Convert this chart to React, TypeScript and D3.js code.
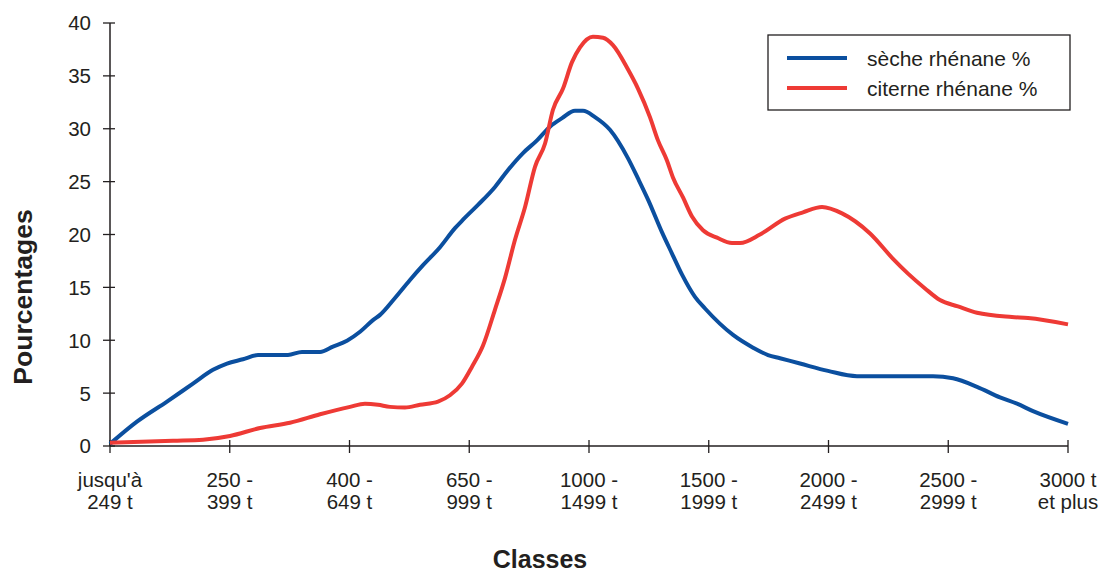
import React from "react";
import * as d3 from "d3";

const categories: string[][] = [
  ["jusqu'à", "249 t"],
  ["250 -", "399 t"],
  ["400 -", "649 t"],
  ["650 -", "999 t"],
  ["1000 -", "1499 t"],
  ["1500 -", "1999 t"],
  ["2000 -", "2499 t"],
  ["2500 -", "2999 t"],
  ["3000 t", "et plus"],
];

const yTicks = [0, 5, 10, 15, 20, 25, 30, 35, 40];

// positions along the class axis (0 = first class, 8 = last class)
const secheX = [0, 0.225, 0.476, 0.693, 0.86, 0.977, 1.11, 1.236, 1.486, 1.603, 1.754, 1.862, 1.979, 2.088, 2.196, 2.255, 2.38, 2.505, 2.614, 2.756, 2.881, 2.948, 3.073, 3.215, 3.324, 3.449, 3.566, 3.674, 3.775, 3.883, 3.95, 4.05, 4.175, 4.326, 4.409, 4.493, 4.61, 4.693, 4.777, 4.885, 4.969, 5.203, 5.37, 5.495, 5.595, 5.762, 5.996, 6.238, 6.873, 7.04, 7.24, 7.432, 7.574, 7.708, 8];
const secheY = [0.2, 2.3, 4.2, 5.9, 7.2, 7.8, 8.2, 8.6, 8.6, 8.9, 8.9, 9.4, 9.95, 10.8, 11.9, 12.4, 14.0, 15.7, 17.1, 18.8, 20.6, 21.4, 22.8, 24.5, 26.1, 27.7, 28.9, 30.2, 31.0, 31.7, 31.7, 31.1, 29.9, 27.2, 25.3, 23.3, 20.2, 18.2, 16.2, 14.1, 13.0, 10.5, 9.3, 8.6, 8.3, 7.8, 7.1, 6.6, 6.6, 6.4, 5.6, 4.6, 4.0, 3.3, 2.1];

const citerneX = [0, 0.526, 0.777, 1.002, 1.253, 1.503, 1.754, 2.004, 2.129, 2.238, 2.338, 2.463, 2.589, 2.739, 2.839, 2.939, 3.023, 3.115, 3.215, 3.299, 3.382, 3.466, 3.549, 3.633, 3.699, 3.783, 3.858, 3.925, 4.033, 4.117, 4.2, 4.326, 4.409, 4.509, 4.576, 4.651, 4.701, 4.785, 4.86, 4.952, 5.069, 5.194, 5.261, 5.428, 5.637, 5.787, 5.946, 6.113, 6.347, 6.539, 6.664, 6.806, 6.931, 7.081, 7.24, 7.532, 7.666, 8];
const citerneY = [0.3, 0.5, 0.6, 0.95, 1.7, 2.2, 3.0, 3.7, 4.0, 3.9, 3.7, 3.65, 3.9, 4.2, 4.8, 5.9, 7.5, 9.5, 12.9, 15.9, 19.5, 22.6, 26.4, 28.6, 31.8, 33.8, 36.3, 37.7, 38.7, 38.6, 37.9, 35.6, 33.8, 31.1, 28.9, 27.0, 25.4, 23.5, 21.7, 20.4, 19.7, 19.2, 19.2, 20.0, 21.5, 22.1, 22.6, 22.0, 20.1, 17.7, 16.3, 14.9, 13.8, 13.2, 12.6, 12.2, 12.1, 11.5];

const seriesNames = ["sèche rhénane %", "citerne rhénane %"];
const seriesColors = ["#0b4f9f", "#ee3a35"];

const W = 1102;
const H = 572;
const FONT = "'Liberation Sans', Arial, Helvetica, sans-serif";
const INK = "#231f20";

export default function App() {
  const x = d3.scaleLinear().domain([0, categories.length - 1]).range([110, 1068]);
  const y = d3.scaleLinear().domain([0, 40]).range([446, 23]);

  const line = d3
    .line<[number, number]>()
    .x((d) => x(d[0]))
    .y((d) => y(d[1]))
    .curve(d3.curveMonotoneX);

  const series = [
    secheX.map((v, i) => [v, secheY[i]] as [number, number]),
    citerneX.map((v, i) => [v, citerneY[i]] as [number, number]),
  ];

  return (
    <svg
      width={W}
      height={H}
      style={{ position: "absolute", left: 0, top: 0, background: "#fff" }}
      fontFamily={FONT}
    >
      {/* axes */}
      <line x1={x(0)} x2={x(0)} y1={y(40)} y2={y(0)} stroke={INK} strokeWidth={1.5} />
      <line x1={x(0)} x2={x(8)} y1={y(0)} y2={y(0)} stroke={INK} strokeWidth={1.5} />
      {yTicks.map((t) => (
        <g key={"y" + t}>
          <line x1={x(0) - 7} x2={x(0) + 5} y1={y(t)} y2={y(t)} stroke={INK} strokeWidth={1.3} />
          <text x={91} y={y(t)} dy="0.36em" textAnchor="end" fontSize={20.5} fill={INK}>
            {t}
          </text>
        </g>
      ))}
      {categories.map((c, i) => (
        <g key={"x" + i}>
          <line x1={x(i)} x2={x(i)} y1={y(0) - 6} y2={y(0) + 7} stroke={INK} strokeWidth={1.3} />
          <text x={x(i)} y={487} textAnchor="middle" fontSize={20.5} fill={INK}>
            {c[0]}
          </text>
          <text x={x(i)} y={509} textAnchor="middle" fontSize={20.5} fill={INK}>
            {c[1]}
          </text>
        </g>
      ))}

      {/* series */}
      {series.map((s, i) => (
        <path
          key={"s" + i}
          d={line(s) || ""}
          fill="none"
          stroke={seriesColors[i]}
          strokeWidth={4}
          strokeLinejoin="round"
        />
      ))}

      {/* axis titles */}
      <text
        transform={`translate(32,297) rotate(-90)`}
        textAnchor="middle"
        fontSize={26.5}
        fontWeight="bold"
        fill={INK}
      >
        Pourcentages
      </text>
      <text x={540} y={568} textAnchor="middle" fontSize={25} fontWeight="bold" fill={INK}>
        Classes
      </text>

      {/* legend */}
      <rect x={768} y={35} width={302} height={75} fill="#fff" stroke={INK} strokeWidth={1.3} />
      {seriesNames.map((n, i) => (
        <g key={"l" + i}>
          <line x1={787} x2={847} y1={58 + i * 30} y2={58 + i * 30} stroke={seriesColors[i]} strokeWidth={4} />
          <text x={867} y={58 + i * 30} dy="0.36em" fontSize={21} fill={INK}>
            {n}
          </text>
        </g>
      ))}
    </svg>
  );
}
